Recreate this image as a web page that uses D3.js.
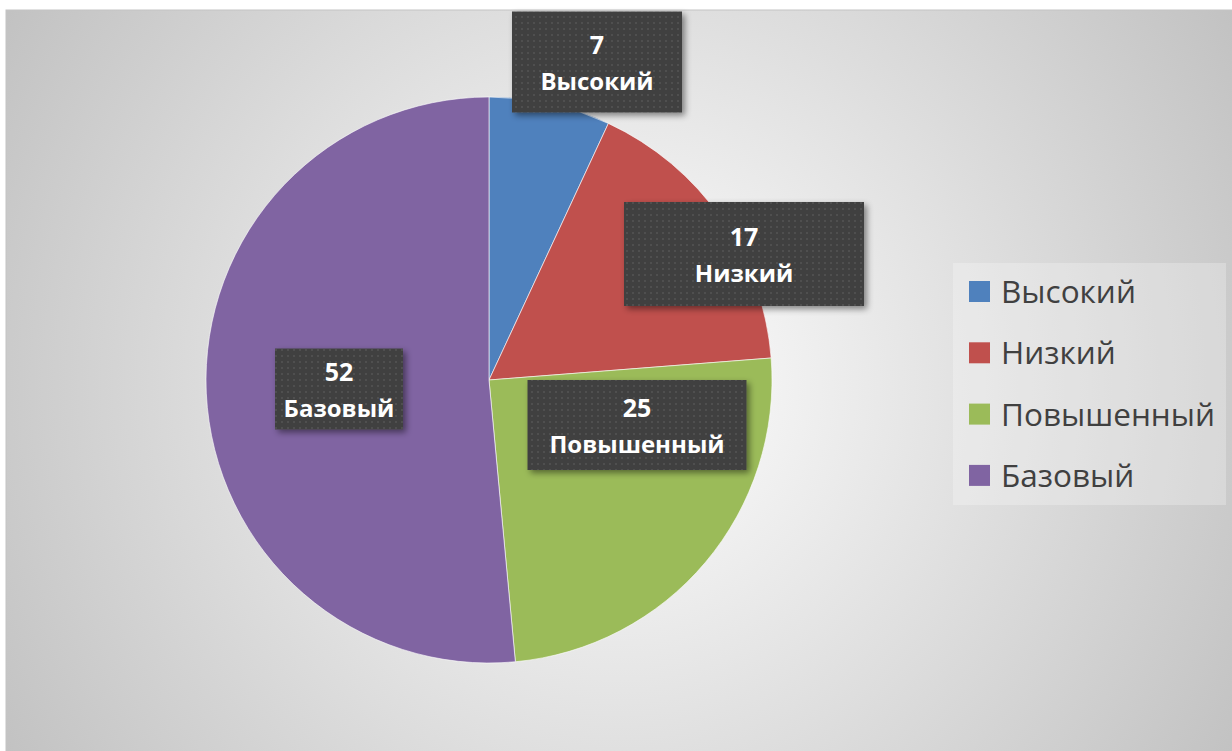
<!DOCTYPE html>
<html>
<head>
<meta charset="utf-8">
<script src="https://cdn.jsdelivr.net/npm/d3@7"></script>
<style>
  body { margin: 0; background: #fff; }
  svg { display: block; }
</style>
</head>
<body>
<svg id="chart" width="1232" height="751"></svg>
<script>
// data
var categories = ['Высокий', 'Низкий', 'Повышенный', 'Базовый'];
var values = [7, 17, 25, 52];
var colors = ['#4f81bd', '#c0504d', '#9bbb59', '#8064a2'];

var W = 1232, H = 751;
var cx = 489, cy = 380, radius = 283;

// label boxes were dragged around by hand in the original, so keep
// their offsets (from pie centre) and sizes here
var labelBoxes = [
    {dx: 108, dy: -318, w: 170, h: 101},
    {dx: 255, dy: -126, w: 240, h: 104},
    {dx: 148, dy: 45, w: 219, h: 90},
    {dx: -150, dy: 9, w: 128, h: 81}
];

var svg = d3.select('#chart');
var defs = svg.append('defs');

var grad = defs.append('radialGradient')
    .attr('id', 'bg')
    .attr('gradientUnits', 'userSpaceOnUse')
    .attr('cx', 620).attr('cy', 385).attr('r', 740);
grad.append('stop').attr('offset', 0).attr('stop-color', '#ffffff');
grad.append('stop').attr('offset', 1).attr('stop-color', '#c0c0c0');

var pat = defs.append('pattern')
    .attr('id', 'dots')
    .attr('patternUnits', 'userSpaceOnUse')
    .attr('width', 6).attr('height', 6);
pat.append('rect').attr('width', 6).attr('height', 6).attr('fill', '#3f3f3f');
pat.append('rect').attr('x', 2).attr('y', 2).attr('width', 2).attr('height', 2).attr('fill', '#4f4f4f');

var shadow = defs.append('filter')
    .attr('id', 'shadow')
    .attr('x', '-20%').attr('y', '-20%').attr('width', '140%').attr('height', '140%');
shadow.append('feDropShadow')
    .attr('dx', 3).attr('dy', 3).attr('stdDeviation', 3)
    .attr('flood-color', '#000').attr('flood-opacity', 0.45);

// chart area
svg.append('rect')
    .attr('x', 6).attr('y', 10)
    .attr('width', W + 10).attr('height', H + 10)
    .attr('fill', 'url(#bg)')
    .attr('stroke', '#c4c4c4');

// faint legend backdrop
svg.append('rect')
    .attr('x', 953).attr('y', 263)
    .attr('width', 273).attr('height', 242)
    .attr('fill', '#ffffff').attr('opacity', 0.25);

// pie
var pie = d3.pie().sort(null).startAngle(0).endAngle(2 * Math.PI);
var arc = d3.arc().innerRadius(0).outerRadius(radius);

var g = svg.append('g').attr('transform', 'translate(' + cx + ',' + cy + ')');

g.selectAll('path.slice')
    .data(pie(values))
    .enter()
    .append('path')
    .attr('class', 'slice')
    .attr('d', arc)
    .attr('fill', function(d, i) { return colors[i]; })
    .attr('stroke', '#ffffff')
    .attr('stroke-width', 0.6);

// data labels
var labels = g.selectAll('g.label')
    .data(pie(values))
    .enter()
    .append('g')
    .attr('class', 'label')
    .attr('transform', function(d, i) {
        return 'translate(' + labelBoxes[i].dx + ',' + labelBoxes[i].dy + ')';
    });

labels.append('rect')
    .attr('x', function(d, i) { return -labelBoxes[i].w / 2; })
    .attr('y', function(d, i) { return -labelBoxes[i].h / 2; })
    .attr('width', function(d, i) { return labelBoxes[i].w; })
    .attr('height', function(d, i) { return labelBoxes[i].h; })
    .attr('fill', 'url(#dots)')
    .attr('filter', 'url(#shadow)');

labels.append('text')
    .attr('text-anchor', 'middle')
    .attr('y', -8)
    .attr('fill', '#ffffff')
    .style('font', 'bold 25px "Open Sans", sans-serif')
    .text(function(d) { return d.data; });

labels.append('text')
    .attr('text-anchor', 'middle')
    .attr('y', 28)
    .attr('fill', '#ffffff')
    .style('font', 'bold 24px "Open Sans", sans-serif')
    .text(function(d, i) { return categories[i]; });

// legend
var legend = svg.append('g').attr('transform', 'translate(969,281)');

var item = legend.selectAll('g.item')
    .data(categories)
    .enter()
    .append('g')
    .attr('class', 'item')
    .attr('transform', function(d, i) { return 'translate(0,' + (i * 61.3) + ')'; });

item.append('rect')
    .attr('width', 21).attr('height', 21)
    .attr('fill', function(d, i) { return colors[i]; });

item.append('text')
    .attr('x', 32)
    .attr('y', 22)
    .attr('fill', '#404040')
    .style('font', '31.5px "Open Sans", sans-serif')
    .text(function(d) { return d; });
</script>
</body>
</html>
